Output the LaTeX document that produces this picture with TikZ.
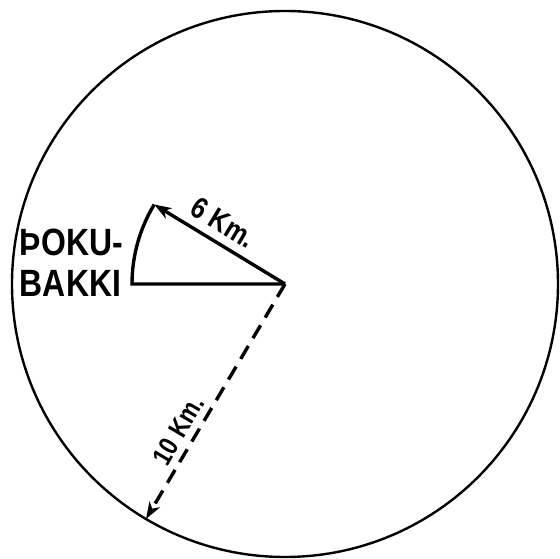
\documentclass[tikz,border=0pt]{standalone}
\usepackage{fontspec}
\setmainfont{Liberation Sans}
\newfontfamily\handfont[FakeStretch=0.84]{Liberation Sans}
\usepackage{tikz}
\usetikzlibrary{arrows.meta, positioning, calc}
\definecolor{blek}{HTML}{000000}
\tikzset{
  kringla/.style={draw=blek, line width=2.4pt},
  geisli/.style={draw=blek, line width=3.4pt, line join=miter},
  strikad/.style={geisli, dash pattern=on 15pt off 9pt},
  oddur/.style={-{Stealth[length=17pt, width=12pt, inset=5pt]}},
  merki/.style={font=\handfont\bfseries\fontsize{30}{34}\selectfont, color=blek, inner sep=0pt},
  stadur/.style={font=\handfont\bfseries\fontsize{38}{41}\selectfont, color=blek, align=left, inner sep=0pt},
}

\begin{document}
\begin{tikzpicture}[x=1pt, y=1pt]
    \useasboundingbox (-285,-275) rectangle (275,284);
    \coordinate (centre) at (0,0);
    \coordinate (west6) at (180:153);
    \coordinate (tip6) at (148.7:153);
    \coordinate (tip10) at (239.4:273);

    \draw[kringla] (centre) circle[radius=273];

    % geirinn
    \draw[geisli] (centre) -- (west6) arc[start angle=180, end angle=148.7, radius=153];
    \draw[geisli, oddur] (centre) -- node[merki, sloped, above=8pt, pos=0.55] (sexkm) {6 Km.} (tip6);
    \draw[strikad, oddur] (centre) -- node[merki, font=\handfont\bfseries\fontsize{27}{30}\selectfont, sloped, above=6pt, pos=0.66] (tiukm) {10 Km.} (tip10);

    \node[stadur, anchor=east] (bakki) at ([xshift=-9pt, yshift=21pt]west6) {ÞOKU-\\BAKKI};
\end{tikzpicture}
\end{document}
